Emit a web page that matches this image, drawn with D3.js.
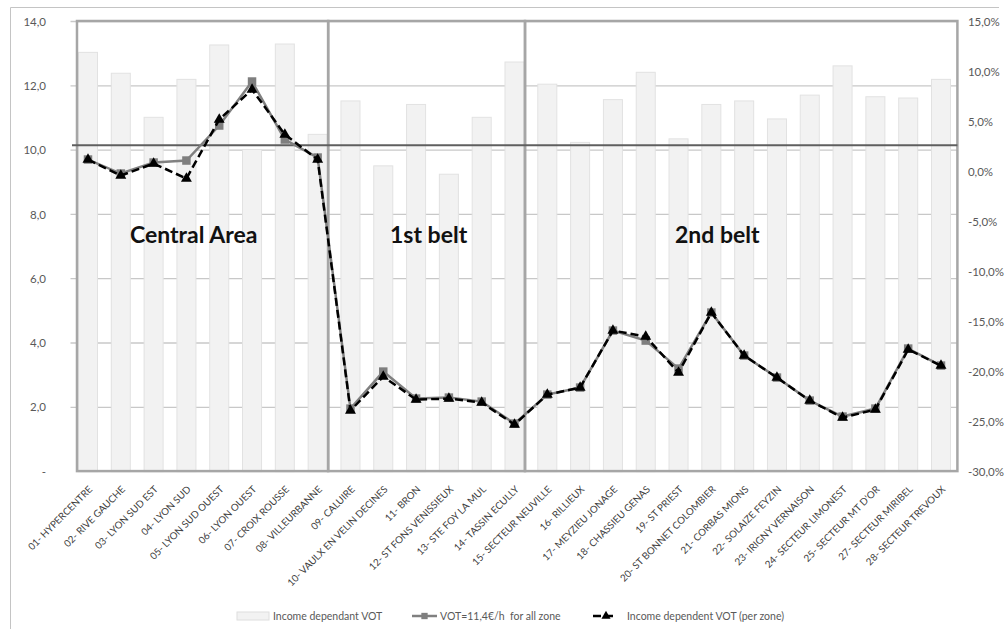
<!DOCTYPE html>
<html>
<head>
<meta charset="utf-8">
<script src="https://cdn.jsdelivr.net/npm/d3@7"></script>
<style>
  body { margin: 0; background: #fff; }
  svg { display: block; }
  text { font-family: Lato, "Open Sans", sans-serif; }
</style>
</head>
<body>
<svg id="chart" width="1006" height="629"></svg>
<script>
// Zones of the Lyon area
const zones = [
  "01- HYPERCENTRE", "02- RIVE GAUCHE", "03- LYON SUD EST", "04- LYON SUD",
  "05- LYON SUD OUEST", "06- LYON OUEST", "07- CROIX ROUSSE", "08- VILLEURBANNE",
  "09- CALUIRE", "10- VAULX EN VELIN DECINES", "11- BRON", "12- ST FONS VENISSIEUX",
  "13- STE FOY LA MUL", "14- TASSIN ECULLY", "15- SECTEUR NEUVILLE", "16- RILLIEUX",
  "17- MEYZIEU JONAGE", "18- CHASSIEU GENAS", "19- ST PRIEST", "20- ST BONNET COLOMBIER",
  "21- CORBAS MIONS", "22- SOLAIZE FEYZIN", "23- IRIGNY VERNAISON", "24- SECTEUR LIMONEST",
  "25- SECTEUR MT D'OR", "27- SECTEUR MIRIBEL", "28- SECTEUR TREVOUX"
];

// Income dependant VOT per zone (€/h, left axis)
const incomeVot = [
  13.04, 12.39, 11.02, 12.20, 13.27, 10.02, 13.30, 10.49,
  11.53, 9.51, 11.42, 9.25, 11.02, 12.74,
  12.05, 10.24, 11.57, 12.42, 10.35, 11.42, 11.53, 10.97, 11.71, 12.62, 11.66, 11.62, 12.20
];

// VOT = 11,4 €/h for all zones (%, right axis)
const uniformVotChange = [
  1.2, -0.2, 0.9, 1.1, 4.6, 9.0, 3.2, 1.4,
  -23.7, -20.0, -22.7, -22.6, -23.0, -25.2,
  -22.3, -21.6, -15.9, -16.9, -19.7, -14.1, -18.4, -20.6, -22.9, -24.5, -23.7, -17.7, -19.4
];

// Income dependent VOT per zone (%, right axis)
const perZoneVotChange = [
  1.2, -0.4, 0.8, -0.7, 5.2, 8.2, 3.7, 1.2,
  -23.9, -20.5, -22.8, -22.7, -23.1, -25.3,
  -22.3, -21.6, -15.9, -16.5, -20.1, -14.1, -18.4, -20.6, -22.9, -24.6, -23.8, -17.8, -19.4
];

// Reference level (€/h, left axis)
const referenceVot = 10.15;

const leftTicks = [0, 2, 4, 6, 8, 10, 12, 14];
const rightTicks = [15, 10, 5, 0, -5, -10, -15, -20, -25, -30];

// Zone belts: names and first / last zone index of each
const groupNames = ["Central Area", "1st belt", "2nd belt"];
const groupFirst = [0, 8, 14];
const groupLast = [7, 13, 26];

const legendLabels = ["Income dependant VOT", "VOT=11,4€/h  for all zone", "Income dependent VOT (per zone)"];

// ---------------------------------------------------------------
const svg = d3.select("#chart");
const W = 1006, H = 629;
const plot = { left: 71.6, right: 957.4, top: 21.5, bottom: 471.6 };

const x = d3.scaleBand().domain(zones).range([plot.left, plot.right])
  .paddingInner(0.42).paddingOuter(0.21);
const cx = i => x(zones[i]) + x.bandwidth() / 2;
const yL = d3.scaleLinear().domain([0, 14]).range([plot.bottom, plot.top]);
const yR = d3.scaleLinear().domain([-30, 15]).range([plot.bottom, plot.top]);

const fmtNum = d => d.toFixed(1).replace(".", ",");

// outer frame (top and left edges)
svg.append("path")
  .attr("d", `M10.5,${H} V7.5 H999`)
  .attr("fill", "none").attr("stroke", "#c4c4c4").attr("stroke-width", 1);

// gridlines
svg.append("g").selectAll("line").data(leftTicks.filter(d => d > 0)).join("line")
  .attr("x1", 70.5).attr("x2", plot.right)
  .attr("y1", d => yL(d)).attr("y2", d => yL(d))
  .attr("stroke", "#c8c8c8").attr("stroke-width", 1.3);

// left axis
const axL = svg.append("g").attr("transform", "translate(50,0)")
  .call(d3.axisLeft(yL).tickValues(leftTicks).tickSize(0).tickPadding(4)
    .tickFormat(d => d === 0 ? "-" : fmtNum(d)));
axL.select(".domain").remove();
axL.selectAll("text").attr("font-size", 11.5).attr("fill", "#595959")
  .style("font-family", "Lato, sans-serif");

// right axis
const axR = svg.append("g").attr("transform", `translate(${plot.right},0)`)
  .call(d3.axisRight(yR).tickValues(rightTicks).tickSize(0).tickPadding(10.5)
    .tickFormat(d => fmtNum(d) + "%"));
axR.select(".domain").remove();
axR.selectAll("text").attr("font-size", 11.5).attr("fill", "#595959")
  .style("font-family", "Lato, sans-serif");

// bars
svg.append("g").selectAll("rect").data(incomeVot).join("rect")
  .attr("x", (d, i) => x(zones[i]))
  .attr("width", x.bandwidth())
  .attr("y", d => yL(d))
  .attr("height", d => yL(0) - yL(d))
  .attr("fill", "#f2f2f2").attr("stroke", "#e2e2e2").attr("stroke-width", 1);

// belt boxes
const boxEdges = groupFirst.map((f, g) => {
  const left = g === 0 ? x(zones[f]) - 1.5 : x(zones[groupLast[g - 1]]) + x.bandwidth() + 1;
  const right = g === groupNames.length - 1 ? plot.right : x(zones[groupLast[g]]) + x.bandwidth() + 1;
  return { left, right };
});
svg.append("g").selectAll("rect").data(boxEdges).join("rect")
  .attr("x", d => d.left).attr("y", plot.top - 0.5)
  .attr("width", d => d.right - d.left).attr("height", plot.bottom - plot.top)
  .attr("fill", "none").attr("stroke", "#a6a6a6").attr("stroke-width", 2.5);

// belt labels
const groupLabelX = [130, 390, 675];
svg.append("g").selectAll("text").data(groupNames).join("text")
  .attr("x", (d, i) => groupLabelX[i]).attr("y", 243)
  .attr("font-size", 23).attr("font-weight", "bold").attr("fill", "#111")
  .text(d => d);

// reference level
svg.append("line")
  .attr("x1", 72).attr("x2", plot.right)
  .attr("y1", yL(referenceVot)).attr("y2", yL(referenceVot))
  .attr("stroke", "#5f5f5f").attr("stroke-width", 2);

// uniform VOT series
const line = d3.line().x((d, i) => cx(i)).y(d => yR(d));
svg.append("path").datum(uniformVotChange).attr("d", line)
  .attr("fill", "none").attr("stroke", "#808080").attr("stroke-width", 2.5);
svg.append("g").selectAll("path").data(uniformVotChange).join("path")
  .attr("transform", (d, i) => `translate(${cx(i)},${yR(d)})`)
  .attr("d", d3.symbol(d3.symbolSquare, 72))
  .attr("fill", "#7f7f7f");

// per-zone VOT series
svg.append("path").datum(perZoneVotChange).attr("d", line)
  .attr("fill", "none").attr("stroke", "#000").attr("stroke-width", 2.5)
  .attr("stroke-dasharray", "8,4");
svg.append("g").selectAll("path").data(perZoneVotChange).join("path")
  .attr("transform", (d, i) => `translate(${cx(i)},${yR(d)})`)
  .attr("d", d3.symbol(d3.symbolTriangle, 52))
  .attr("fill", "#000");

// category labels
svg.append("g").selectAll("text").data(zones).join("text")
  .attr("transform", (d, i) => `translate(${cx(i) + 5},${490}) rotate(-45)`)
  .attr("text-anchor", "end")
  .attr("font-size", 9.8).attr("fill", "#404040")
  .text(d => d);

// legend
const lg = svg.append("g").attr("font-size", 10.5).attr("fill", "#595959");
lg.append("rect").attr("x", 237).attr("y", 612).attr("width", 32).attr("height", 8)
  .attr("fill", "#f2f2f2").attr("stroke", "#dedede");
lg.append("text").attr("x", 273).attr("y", 620).text(legendLabels[0]);

lg.append("line").attr("x1", 412).attr("x2", 437).attr("y1", 616).attr("y2", 616)
  .attr("stroke", "#808080").attr("stroke-width", 2.5);
lg.append("path").attr("transform", "translate(424.5,616)")
  .attr("d", d3.symbol(d3.symbolSquare, 40)).attr("fill", "#7f7f7f");
lg.append("text").attr("x", 440).attr("y", 620).style("white-space", "pre").text(legendLabels[1]);

lg.append("line").attr("x1", 593).attr("x2", 617).attr("y1", 616).attr("y2", 616)
  .attr("stroke", "#000").attr("stroke-width", 2.5).attr("stroke-dasharray", "8,4");
lg.append("path").attr("transform", "translate(606,616)")
  .attr("d", d3.symbol(d3.symbolTriangle, 36)).attr("fill", "#000");
lg.append("text").attr("x", 627).attr("y", 620).text(legendLabels[2]);
</script>
</body>
</html>
